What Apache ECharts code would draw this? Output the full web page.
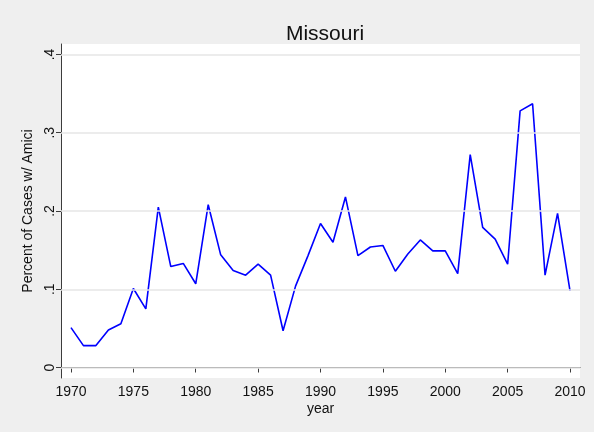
<!DOCTYPE html>
<html>
<head>
<meta charset="utf-8">
<style>
  html, body { margin: 0; padding: 0; background: #efefef; }
  #chart { width: 594px; height: 432px; }
</style>
<script src="https://cdn.jsdelivr.net/npm/echarts@6/dist/echarts.min.js"></script>
</head>
<body>
<div id="chart"></div>
<script>
// Share of Missouri cases with amicus briefs, by year
const years = [1970, 1971, 1972, 1973, 1974, 1975, 1976, 1977, 1978, 1979,
               1980, 1981, 1982, 1983, 1984, 1985, 1986, 1987, 1988, 1989,
               1990, 1991, 1992, 1993, 1994, 1995, 1996, 1997, 1998, 1999,
               2000, 2001, 2002, 2003, 2004, 2005, 2006, 2007, 2008, 2009, 2010];
const amiciShare = [0.051, 0.028, 0.028, 0.048, 0.056, 0.101, 0.075, 0.205, 0.129, 0.133,
                    0.107, 0.208, 0.144, 0.124, 0.118, 0.132, 0.118, 0.047, 0.104, 0.143,
                    0.184, 0.160, 0.218, 0.143, 0.154, 0.156, 0.123, 0.145, 0.163, 0.149,
                    0.149, 0.120, 0.272, 0.179, 0.164, 0.132, 0.328, 0.337, 0.118, 0.197, 0.098];
const yTicks = [0, 0.1, 0.2, 0.3, 0.4];
const xTicks = [1970, 1975, 1980, 1985, 1990, 1995, 2000, 2005, 2010];

const fontFamily = '"Liberation Sans", Arial, sans-serif';
const axisColor = '#3c3c3c';

// Stata-style labels: ".1" rather than "0.1"
function fmtY(v) {
  if (Math.abs(v) < 1e-9) return '0';
  return String(Math.round(v * 10) / 10).replace(/^0\./, '.');
}

const chart = echarts.init(document.getElementById('chart'), null, { renderer: 'canvas' });
chart.setOption({
  animation: false,
  backgroundColor: '#efefef',
  title: {
    text: 'Missouri',
    left: 320,
    top: 19,
    textAlign: 'center',
    textStyle: { fontFamily, fontSize: 21, fontWeight: 'normal', color: '#111' }
  },
  grid: {
    left: 61, right: 14, top: 44, bottom: 54,
    show: true, backgroundColor: '#ffffff', borderWidth: 0
  },
  xAxis: {
    type: 'value',
    min: 1969.2, max: 2010.8,
    name: 'year',
    nameLocation: 'middle',
    nameGap: 24,
    nameMoveOverlap: false,
    nameTextStyle: { fontFamily, fontSize: 14, color: '#111' },
    axisLine: { show: true, lineStyle: { color: axisColor, width: 1 } },
    axisTick: { show: true, length: 5, customValues: xTicks, lineStyle: { color: axisColor } },
    axisLabel: {
      customValues: xTicks,
      margin: 7,
      fontFamily, fontSize: 14, color: '#111',
      formatter: v => String(Math.round(v))
    },
    splitLine: { show: false }
  },
  yAxis: {
    type: 'value',
    min: -0.0134, max: 0.4134,
    name: 'Percent of Cases w/ Amici',
    nameLocation: 'middle',
    nameGap: 26,
    nameMoveOverlap: false,
    nameRotate: 90,
    nameTextStyle: { fontFamily, fontSize: 14, color: '#111' },
    axisLine: { show: true, lineStyle: { color: axisColor, width: 1 } },
    axisTick: { show: true, length: 5, customValues: yTicks, lineStyle: { color: axisColor } },
    axisLabel: {
      customValues: yTicks,
      rotate: 90,
      margin: 4,
      fontFamily, fontSize: 14, color: '#111',
      formatter: fmtY
    },
    splitLine: { show: false }
  },
  series: [
    {
      // horizontal gridlines at the y tick values
      type: 'line',
      data: [],
      silent: true,
      z: 1,
      markLine: {
        silent: true,
        symbol: 'none',
        label: { show: false },
        lineStyle: { color: '#e6e6e6', width: 1.6, type: 'solid' },
        data: yTicks.map(v => ({ yAxis: v }))
      }
    },
    {
      type: 'line',
      z: 3,
      data: years.map((y, i) => [y, amiciShare[i]]),
      showSymbol: false,
      symbol: 'none',
      lineStyle: { color: '#0000ff', width: 1.6 }
    }
  ]
});
</script>
</body>
</html>
